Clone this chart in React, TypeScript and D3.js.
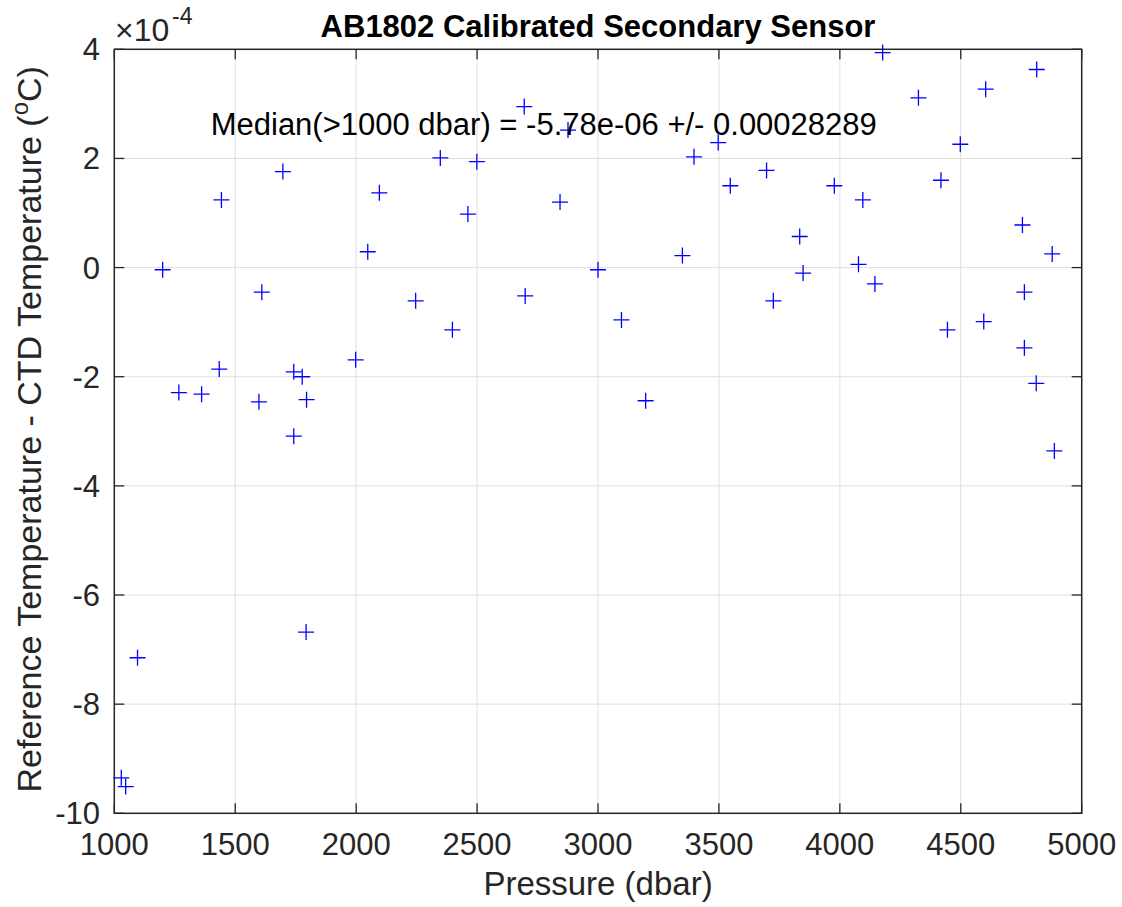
import React from "react";
import * as d3 from "d3";

const pressure = [
  1029, 1047, 1096, 1200, 1267, 1361, 1443, 1434, 1598, 1610,
  1697, 1742, 1777, 1795, 1742, 1793, 1998, 2048, 2096, 2246,
  2348, 2398, 2462, 2499, 2695, 2699, 2843, 2876, 3000, 3097,
  3197, 3349, 3397, 3497, 3547, 3697, 3725, 3834, 3848, 3977,
  4077, 4095, 4145, 4177, 4325, 4418, 4445, 4498, 4595, 4603,
  4755, 4763, 4763, 4812, 4814, 4878, 4887,
];
// values in units of 1e-4 degC
const tempDiff = [
  -9.35, -9.51, -7.15, -0.04, -2.29, -2.32, 1.24, -1.86, -2.46, -0.45,
  1.76, -1.91, -2.0, -2.42, -3.09, -6.68, -1.69, 0.29, 1.37, -0.61,
  2.01, -1.14, 0.98, 1.94, 2.95, -0.52, 1.2, 2.52, -0.04, -0.96,
  -2.44, 0.22, 2.03, 2.29, 1.5, 1.78, -0.61, 0.57, -0.1, 1.5,
  0.06, 1.24, -0.3, 3.94, 3.11, 1.6, -1.14, 2.26, -0.99, 3.27,
  0.78, -0.45, -1.47, -2.12, 3.63, 0.25, -3.36,
];

const xTicks = [1000, 1500, 2000, 2500, 3000, 3500, 4000, 4500, 5000];
const yTicks = [4, 2, 0, -2, -4, -6, -8, -10];

const titleText = "AB1802 Calibrated Secondary Sensor";
const medianText = "Median(>1000 dbar) = -5.78e-06 +/- 0.00028289";
const xLabel = "Pressure (dbar)";

const W = 1122;
const H = 907;
const left = 114.3;
const right = 1081.7;
const top = 49.3;
const bottom = 813.3;
const FONT = "'Liberation Sans', Arial, Helvetica, sans-serif";
const AX = "#262626";
const GRID = "#dfdfdf";
const TICK = 10;

export default function App() {
  const x = d3.scaleLinear().domain([1000, 5000]).range([left, right]);
  const y = d3.scaleLinear().domain([-10, 4]).range([bottom, top]);
  const m = 8;

  return (
    <svg
      width={W}
      height={H}
      style={{ position: "absolute", left: 0, top: 0, background: "#fff" }}
      fontFamily={FONT}
    >
      <rect x={0} y={0} width={W} height={H} fill="#fff" />
      {/* grid */}
      {xTicks.map((t) => (
        <line key={"gx" + t} x1={x(t)} x2={x(t)} y1={top} y2={bottom} stroke={GRID} strokeWidth={1} />
      ))}
      {yTicks.map((t) => (
        <line key={"gy" + t} x1={left} x2={right} y1={y(t)} y2={y(t)} stroke={GRID} strokeWidth={1} />
      ))}
      {/* ticks */}
      {xTicks.map((t) => (
        <g key={"tx" + t}>
          <line x1={x(t)} x2={x(t)} y1={bottom} y2={bottom - TICK} stroke={AX} strokeWidth={1.3} />
          <line x1={x(t)} x2={x(t)} y1={top} y2={top + TICK} stroke={AX} strokeWidth={1.3} />
          <text x={x(t)} y={855} textAnchor="middle" fontSize={31} fill={AX}>
            {t}
          </text>
        </g>
      ))}
      {yTicks.map((t) => (
        <g key={"ty" + t}>
          <line x1={left} x2={left + TICK} y1={y(t)} y2={y(t)} stroke={AX} strokeWidth={1.3} />
          <line x1={right} x2={right - TICK} y1={y(t)} y2={y(t)} stroke={AX} strokeWidth={1.3} />
          <text x={100} y={y(t) + 11} textAnchor="end" fontSize={31} fill={AX}>
            {t}
          </text>
        </g>
      ))}
      {/* frame */}
      <rect x={left} y={top} width={right - left} height={bottom - top} fill="none" stroke={AX} strokeWidth={1.5} />
      {/* exponent */}
      <text x={115} y={41} fontSize={32} fill={AX}>
        ×10
      </text>
      <text x={172} y={24} fontSize={23} fill={AX}>
        -4
      </text>
      {/* markers */}
      {pressure.map((p, i) => {
        const cx = x(p);
        const cy = y(tempDiff[i]);
        return (
          <path
            key={"m" + i}
            d={`M${cx - m},${cy}H${cx + m}M${cx},${cy - m}V${cy + m}`}
            stroke="#0000ff"
            strokeWidth={1.3}
            fill="none"
          />
        );
      })}
      {/* median annotation */}
      <text x={210.7} y={135} fontSize={31} fill="#000">
        {medianText}
      </text>
      {/* title */}
      <text x={(left + right) / 2} y={37} textAnchor="middle" fontSize={31} fontWeight="bold" fill="#000">
        {titleText}
      </text>
      {/* x label */}
      <text x={(left + right) / 2} y={895} textAnchor="middle" fontSize={33} fill={AX}>
        {xLabel}
      </text>
      {/* y label */}
      <text
        transform={`translate(41,${(top + bottom) / 2 - 2}) rotate(-90)`}
        textAnchor="middle"
        fontSize={34}
        fill={AX}
      >
        Reference Temperature - CTD Temperature (
        <tspan dy={-13} fontSize={24}>o</tspan>
        <tspan dy={13}>C)</tspan>
      </text>
    </svg>
  );
}
